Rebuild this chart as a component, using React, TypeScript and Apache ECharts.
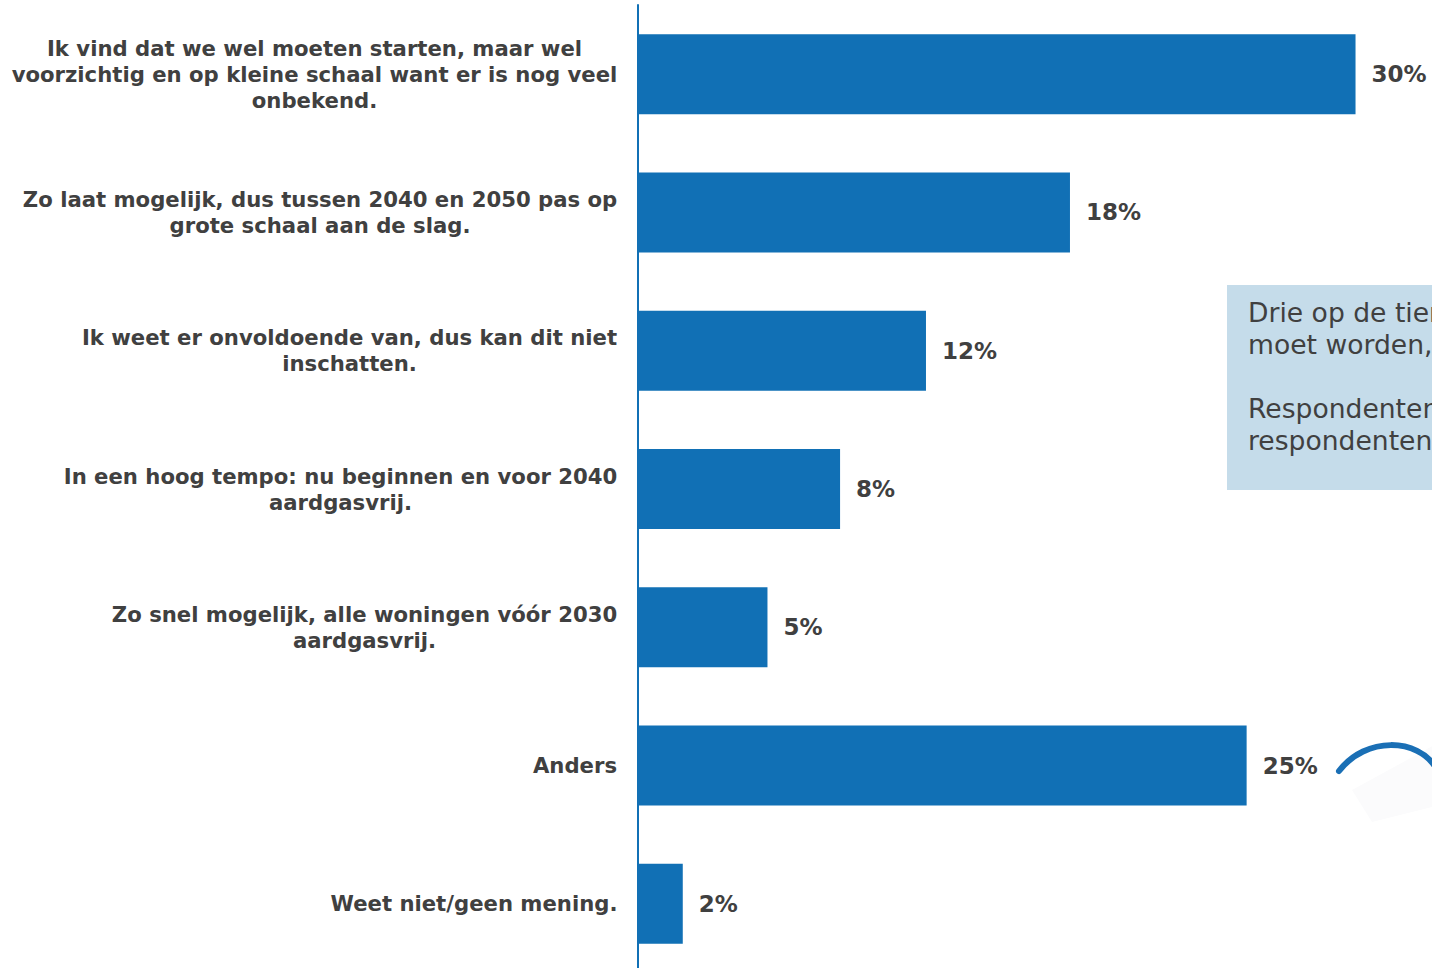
import React, { useEffect, useRef } from "react";
import * as echarts from "echarts";

const categories: string[] = [
  "Ik vind dat we wel moeten starten, maar wel\nvoorzichtig en op kleine schaal want er is nog veel\nonbekend.",
  "Zo laat mogelijk, dus tussen 2040 en 2050 pas op\ngrote schaal aan de slag.",
  "Ik weet er onvoldoende van, dus kan dit niet\ninschatten.",
  "In een hoog tempo: nu beginnen en voor 2040\naardgasvrij.",
  "Zo snel mogelijk, alle woningen vóór 2030\naardgasvrij.",
  "Anders",
  "Weet niet/geen mening.",
];
const values: number[] = [29.65, 17.85, 11.9, 8.35, 5.35, 25.15, 1.85];
const valueLabels: string[] = ["30%", "18%", "12%", "8%", "5%", "25%", "2%"];
const noteLines: string[] = ["Drie op de tien", "moet worden,", "", "Respondenten", "respondenten"];

const FONT = '"DejaVu Sans", Verdana, sans-serif';
const TEXT = "#404040";
const BLUE = "#1170b5";
const CAT_SIZE = 21.2;

export default function App() {
  const ref = useRef<HTMLDivElement>(null);
  useEffect(() => {
    document.body.style.margin = "0";
    document.body.style.overflow = "hidden";
    document.documentElement.style.overflow = "hidden";
    const chart = echarts.init(ref.current!, undefined, { renderer: "svg" });
    const canvas = document.createElement("canvas");
    const ctx = canvas.getContext("2d")!;
    ctx.font = `bold ${CAT_SIZE}px ${FONT}`;
    const rich: Record<string, any> = {};
    categories.forEach((c, i) => {
      const w = Math.max(...c.split("\n").map((l) => ctx.measureText(l).width));
      rich["c" + i] = {
        width: Math.ceil(w) + 1,
        align: "center",
        fontFamily: FONT,
        fontWeight: "bold",
        fontSize: CAT_SIZE,
        lineHeight: 26,
        color: TEXT,
      };
    });
    chart.setOption({
      animation: false,
      backgroundColor: "#ffffff",
      grid: { left: 638, top: 5, bottom: 1, width: 726, containLabel: false },
      xAxis: {
        type: "value",
        min: 0,
        max: 30,
        show: false,
      },
      yAxis: {
        type: "category",
        inverse: true,
        data: categories,
        axisLine: { show: true, lineStyle: { color: BLUE, width: 2 } },
        axisTick: { show: false },
        splitLine: { show: false },
        axisLabel: {
          margin: 20,
          formatter: (v: string, i: number) => `{c${i}|${v}}`,
          rich,
        },
      },
      series: [
        {
          type: "bar",
          data: values,
          barWidth: 80,
          itemStyle: { color: BLUE },
          label: {
            show: true,
            position: "right",
            distance: 16,
            formatter: (p: any) => valueLabels[p.dataIndex],
            fontFamily: FONT,
            fontWeight: "bold",
            fontSize: 23,
            color: TEXT,
          },
        },
      ],
      graphic: [
        {
          type: "rect",
          shape: { x: 1227, y: 285, width: 260, height: 205 },
          style: { fill: "#c5dcea" },
          silent: true,
        },
        {
          type: "text",
          x: 1248,
          y: 296,
          style: {
            text: noteLines.join("\n"),
            font: `26.6px ${FONT}`,
            lineHeight: 32,
            fill: TEXT,
            textVerticalAlign: "top",
          },
          silent: true,
        },
        {
          type: "polygon",
          shape: { points: [[1352, 790], [1440, 742], [1460, 800], [1372, 822]] },
          style: { fill: "#fbfbfc" },
          silent: true,
        },
        {
          type: "bezierCurve",
          shape: { x1: 1339, y1: 771, cpx1: 1366, cpx2: 1418, cpy1: 736, cpy2: 738, x2: 1436, y2: 768 },
          style: { stroke: "#1a6fb5", lineWidth: 6, fill: "none", lineCap: "round" },
          silent: true,
        },
      ],
    });
    return () => chart.dispose();
  }, []);
  return <div ref={ref} style={{ width: 1432, height: 974, overflow: "hidden" }} />;
}
